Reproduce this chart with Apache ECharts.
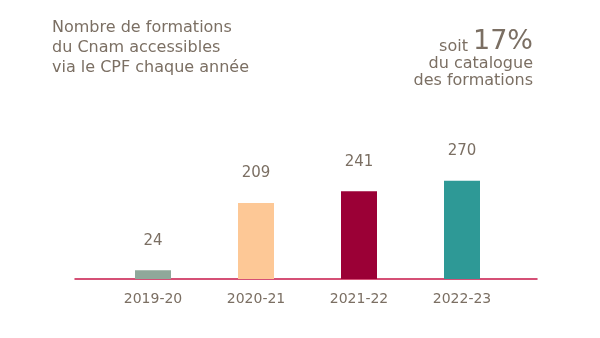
<!DOCTYPE html>
<html>
<head>
<meta charset="utf-8">
<script src="https://cdn.jsdelivr.net/npm/echarts@6/dist/echarts.min.js"></script>
<style>
  html, body { margin: 0; padding: 0; background: #ffffff; }
  #chart { width: 600px; height: 338px; }
</style>
</head>
<body>
<div id="chart"></div>
<script>
// Formations du Cnam éligibles au CPF, par année universitaire
const years = ['2019-20', '2020-21', '2021-22', '2022-23'];
const counts = [24, 209, 241, 270];
const barColors = ['#8fa89a', '#fdc896', '#9b0036', '#2e9996'];

const textColor = '#7b6f63';
const font = 'DejaVu Sans';

const chart = echarts.init(document.getElementById('chart'));
chart.setOption({
  backgroundColor: '#ffffff',
  animation: false,
  title: {
    text: 'Nombre de formations\ndu Cnam accessibles\nvia le CPF chaque année',
    left: 47,
    top: 13,
    textStyle: { color: textColor, fontFamily: font, fontSize: 16, fontWeight: 'normal', lineHeight: 20 }
  },
  graphic: [
    {
      type: 'text',
      right: 67,
      top: 28,
      style: {
        text: '{s|soit }{b|17%}\n{s|du catalogue}\n{s|des formations}',
        align: 'right',
        fill: textColor,
        fontFamily: font,
        rich: {
          s: { fontSize: 16, fill: textColor, fontFamily: font, fontWeight: 'normal', lineHeight: 17, verticalAlign: 'bottom', align: 'right' },
          b: { fontSize: 27, fill: textColor, fontFamily: font, fontWeight: 'normal', lineHeight: 26, verticalAlign: 'bottom', align: 'right' }
        }
      }
    }
  ],
  grid: [
    { left: 101.5, width: 412, top: 179, height: 100 },
    { left: 75, width: 462, top: 179, height: 100 }
  ],
  xAxis: [
    {
      type: 'category',
      gridIndex: 0,
      data: years,
      axisLine: { show: false },
      axisTick: { show: false },
      axisLabel: { color: textColor, fontFamily: font, fontSize: 14, margin: 13 }
    },
    {
      type: 'value',
      gridIndex: 1,
      min: 0,
      max: 1,
      axisLine: { show: true, lineStyle: { color: '#c8174a', width: 1.5 } },
      axisTick: { show: false },
      axisLabel: { show: false },
      splitLine: { show: false }
    }
  ],
  yAxis: [
    { type: 'value', gridIndex: 0, min: 0, max: 275, show: false, splitLine: { show: false } },
    { type: 'value', gridIndex: 1, min: 0, max: 1, show: false, splitLine: { show: false } }
  ],
  series: [
    {
      type: 'bar',
      xAxisIndex: 0,
      yAxisIndex: 0,
      barWidth: 36,
      data: counts.map((v, i) => ({ value: v, itemStyle: { color: barColors[i] } })),
      label: {
        show: true,
        position: 'top',
        distance: 22,
        color: textColor,
        fontFamily: font,
        fontSize: 15
      }
    }
  ]
});
</script>
</body>
</html>
